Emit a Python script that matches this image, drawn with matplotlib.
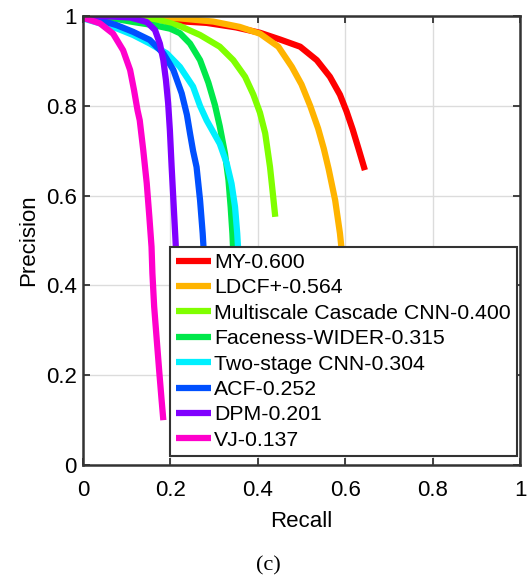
import numpy as np
import matplotlib.pyplot as plt
from matplotlib.ticker import FuncFormatter

plt.rcParams['font.family'] = ['Liberation Sans', 'DejaVu Sans']

# precision / recall curves per detector
names = ['MY-0.600', 'LDCF+-0.564', 'Multiscale Cascade CNN-0.400', 'Faceness-WIDER-0.315',
         'Two-stage CNN-0.304', 'ACF-0.252', 'DPM-0.201', 'VJ-0.137']
colors = ['#ff0000', '#ffb400', '#80ff00', '#00e84a', '#00f0ff', '#0050ff', '#8000ff', '#ff00cc']

my_r = [0, 0.10, 0.20, 0.283, 0.35, 0.405, 0.451, 0.497, 0.535, 0.565, 0.588, 0.603, 0.617, 0.631, 0.645]
my_p = [1.0, 0.997, 0.99, 0.985, 0.975, 0.963, 0.948, 0.932, 0.902, 0.865, 0.825, 0.788, 0.748, 0.703, 0.657]

ldcf_r = [0, 0.10, 0.222, 0.298, 0.359, 0.405, 0.447, 0.478, 0.50, 0.52, 0.538, 0.551, 0.562, 0.577, 0.588, 0.595, 0.60]
ldcf_p = [1.0, 1.0, 0.995, 0.988, 0.976, 0.961, 0.932, 0.887, 0.848, 0.800, 0.750, 0.705, 0.660, 0.590, 0.516, 0.45, 0.40]

msc_r = [0, 0.10, 0.18, 0.222, 0.268, 0.313, 0.344, 0.371, 0.390, 0.405, 0.417, 0.428, 0.435, 0.44]
msc_p = [1.0, 0.999, 0.99, 0.978, 0.958, 0.932, 0.902, 0.865, 0.825, 0.785, 0.739, 0.664, 0.60, 0.553]

fac_r = [0, 0.069, 0.115, 0.161, 0.200, 0.222, 0.245, 0.268, 0.287, 0.302, 0.313, 0.325, 0.333, 0.338, 0.342, 0.345, 0.348]
fac_p = [1.0, 0.995, 0.987, 0.980, 0.972, 0.962, 0.939, 0.902, 0.852, 0.802, 0.755, 0.694, 0.635, 0.575, 0.516, 0.45, 0.38]

two_r = [0, 0.039, 0.077, 0.115, 0.153, 0.192, 0.222, 0.252, 0.268, 0.283, 0.298, 0.313, 0.329, 0.340, 0.348, 0.353, 0.357, 0.36]
two_p = [0.995, 0.984, 0.973, 0.958, 0.939, 0.917, 0.887, 0.843, 0.80, 0.768, 0.742, 0.716, 0.672, 0.627, 0.575, 0.516, 0.45, 0.38]

acf_r = [0, 0.039, 0.077, 0.115, 0.153, 0.184, 0.207, 0.226, 0.238, 0.245, 0.252, 0.260, 0.268, 0.274, 0.278, 0.282]
acf_p = [0.995, 0.991, 0.980, 0.965, 0.947, 0.917, 0.880, 0.828, 0.78, 0.739, 0.70, 0.664, 0.590, 0.516, 0.45, 0.38]

dpm_r = [0, 0.03, 0.069, 0.108, 0.146, 0.165, 0.176, 0.184, 0.190, 0.195, 0.199, 0.203, 0.207, 0.211, 0.215, 0.218]
dpm_p = [1.0, 1.0, 0.999, 0.997, 0.987, 0.969, 0.939, 0.902, 0.857, 0.806, 0.745, 0.664, 0.590, 0.516, 0.44, 0.38]

vj_r = [0, 0.005, 0.039, 0.069, 0.092, 0.108, 0.117, 0.125, 0.130, 0.138, 0.146, 0.152, 0.157,
        0.159, 0.163, 0.169, 0.175, 0.180, 0.184]
vj_p = [0.998, 0.995, 0.984, 0.961, 0.924, 0.880, 0.835, 0.790, 0.768, 0.702, 0.628, 0.553, 0.486,
        0.427, 0.353, 0.278, 0.204, 0.145, 0.100]

recalls = [my_r, ldcf_r, msc_r, fac_r, two_r, acf_r, dpm_r, vj_r]
precisions = [my_p, ldcf_p, msc_p, fac_p, two_p, acf_p, dpm_p, vj_p]

fig = plt.figure(figsize=(5.28, 5.77), dpi=100)
ax = fig.add_axes([0.157, 0.194, 0.828, 0.778])

for r, p, c, n in zip(recalls, precisions, colors, names):
    ax.plot(r, p, color=c, lw=4.5, label=n, solid_capstyle='butt', solid_joinstyle='round')

ax.set_xlim(0, 1)
ax.set_ylim(0, 1)
ticks = [0, 0.2, 0.4, 0.6, 0.8, 1]
ax.set_xticks(ticks)
ax.set_yticks(ticks)
fmt = FuncFormatter(lambda v, pos: '%g' % v)
ax.xaxis.set_major_formatter(fmt)
ax.yaxis.set_major_formatter(fmt)
ax.tick_params(direction='in', top=True, right=True, length=5, width=1.3,
               labelsize=16, color='#333333')
ax.tick_params(axis='x', pad=11)
ax.tick_params(axis='y', pad=4.5)
ax.grid(True, color='#dcdcdc', lw=1)
for s in ax.spines.values():
    s.set_linewidth(1.8)
    s.set_color('#333333')

ax.set_xlabel('Recall', fontsize=16, labelpad=7)
ax.set_ylabel('Precision', fontsize=16, labelpad=5)

leg = ax.legend(loc='lower right', bbox_to_anchor=(0.993, 0.02), fontsize=15.3,
                handlelength=1.65, handletextpad=0.12, labelspacing=0.3,
                borderpad=0.3, borderaxespad=0, fancybox=False, framealpha=1)
leg.get_frame().set_edgecolor('#333333')
leg.get_frame().set_linewidth(1.5)

fig.text(0.508, 0.0195, '(c)', ha='center', va='center', fontsize=16,
         family='Liberation Serif')

fig.savefig('out.png', dpi=100)
